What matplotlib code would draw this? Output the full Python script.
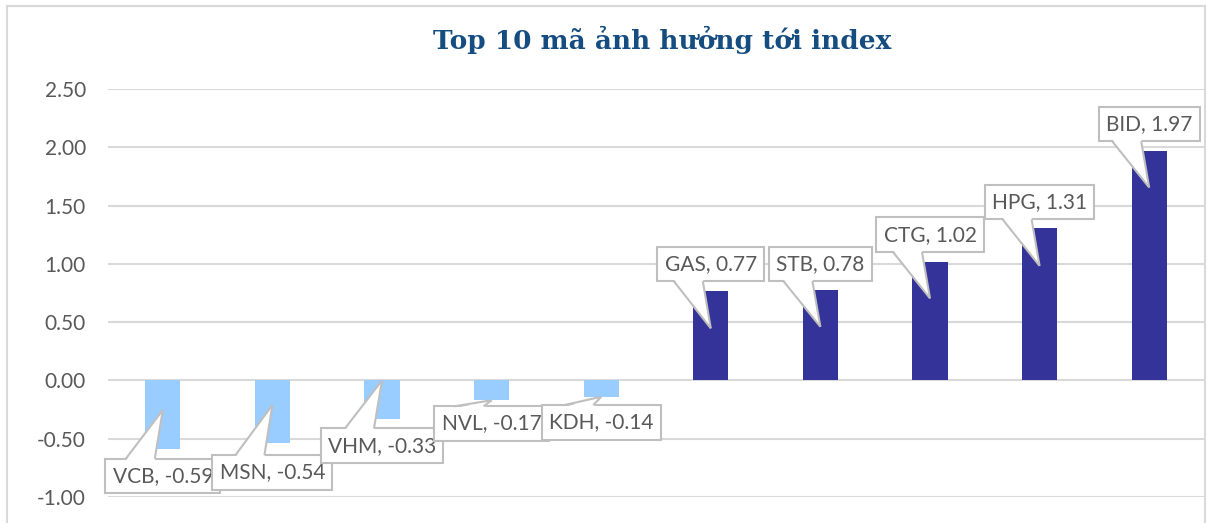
import numpy as np
import matplotlib
matplotlib.use("Agg")
import matplotlib.pyplot as plt
from matplotlib.lines import Line2D
from matplotlib.patches import Polygon

# data
tickers = ["VCB", "MSN", "VHM", "NVL", "KDH", "GAS", "STB", "CTG", "HPG", "BID"]
impact = [-0.59, -0.54, -0.33, -0.17, -0.14, 0.77, 0.78, 1.02, 1.31, 1.97]

# callout layout: box centre height and where the pointer touches the bar (fraction of value)
label_y = [-0.82, -0.79, -0.56, -0.37, -0.36, 1.00, 1.00, 1.25, 1.53, 2.20]
tip_frac = [0.43, 0.39, 0.0, 1.0, 1.0, 0.58, 0.59, 0.69, 0.75, 0.84]

TITLE = "Top 10 mã ảnh hưởng tới index"
NEG_COLOR = "#99CCFF"
POS_COLOR = "#333399"
GRID_COLOR = "#D9D9D9"
EDGE_COLOR = "#BFBFBF"
TEXT_COLOR = "#595959"
FONT = ["Lato", "DejaVu Sans"]


def main():
	fig = plt.figure(figsize=(12.07, 5.23), dpi=100)
	ax = fig.add_axes([108/1207, 1 - 497/523, (1204 - 108)/1207, (497 - 89)/523])

	x = np.arange(len(tickers))
	colors = [NEG_COLOR if v < 0 else POS_COLOR for v in impact]
	ax.bar(x, impact, width=0.32, color=colors, zorder=2)

	ax.set_xlim(-0.5, len(tickers) - 0.5)
	ax.set_ylim(-1.0, 2.5)
	ax.set_yticks(np.arange(-1.0, 2.51, 0.5))
	ax.set_yticklabels(["%.2f" % t for t in np.arange(-1.0, 2.51, 0.5)])
	ax.set_xticks([])
	ax.grid(axis="y", color=GRID_COLOR, linewidth=1.5, zorder=0)
	ax.set_axisbelow(True)
	for s in ax.spines.values():
		s.set_visible(False)
	ax.tick_params(axis="y", length=0, pad=16, labelsize=15, labelcolor=TEXT_COLOR)
	for lbl in ax.get_yticklabels():
		lbl.set_family(FONT)

	# callout boxes
	texts = []
	for i, (name, v) in enumerate(zip(tickers, impact)):
		t = ax.text(x[i], label_y[i], "%s, %.2f" % (name, v),
					ha="center", va="center", fontsize=15, color=TEXT_COLOR, family=FONT,
					bbox=dict(boxstyle="square,pad=0.35", fc="white", ec=EDGE_COLOR, lw=1.5),
					zorder=3 + 2*i)
		texts.append(t)

	# callout pointers (base sits on the box edge, left of the tip, like Excel)
	fig.canvas.draw()
	inv = ax.transData.inverted()
	for i, t in enumerate(texts):
		bb = t.get_bbox_patch().get_window_extent()
		tip = ax.transData.transform((x[i], impact[i] * tip_frac[i]))
		if tip[1] > bb.y1:
			edge, inward = bb.y1, -2
		else:
			edge, inward = bb.y0, 2
		b0 = tip[0] - 37
		b1 = tip[0] - 8
		fill = [(b0, edge + inward), (b1, edge + inward), (tip[0], tip[1])]
		fill = [inv.transform(p) for p in fill]
		ax.add_patch(Polygon(fill, closed=True, fc="white", ec="none", zorder=4 + 2*i))
		for bx in (b0, b1):
			pts = inv.transform([(bx, edge), (tip[0], tip[1])])
			ax.plot(pts[:, 0], pts[:, 1], color=EDGE_COLOR, lw=1.5,
					solid_capstyle="butt", zorder=4 + 2*i)

	fig.text(662/1207, 1 - 40/523, TITLE, ha="center", va="center",
			 fontsize=19, fontweight="bold", color="#154D80", family="DejaVu Serif")

	# chart frame
	fig.add_artist(Line2D([7/1207, 7/1207], [0, 1 - 6/523], color=GRID_COLOR, lw=1.5))
	fig.add_artist(Line2D([7/1207, 1205/1207], [1 - 6/523, 1 - 6/523], color=GRID_COLOR, lw=1.5))
	fig.add_artist(Line2D([1205/1207, 1205/1207], [0, 1 - 6/523], color=GRID_COLOR, lw=1.5))

	fig.savefig("out.png", dpi=100)


if __name__ == "__main__":
	main()
